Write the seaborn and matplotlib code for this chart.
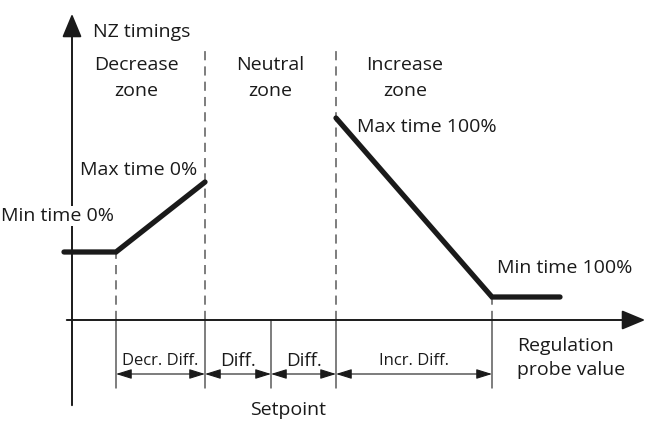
import matplotlib
matplotlib.use("Agg")
import matplotlib.pyplot as plt
import seaborn as sns
import pandas as pd

# Schematic values (x = regulation probe value, y = NZ timing), origin at the axes crossing
breaks_x = [44, 133, 199, 264, 420]          # Decr. start, Decr./Neutral, Setpoint, Neutral/Incr., Incr. end
decrease_x = [-8, 44, 133]
decrease_y = [68, 68, 138]
increase_x = [264, 420, 488]
increase_y = [202, 23, 23]
span_labels = ["Decr. Diff.", "Diff.", "Diff.", "Incr. Diff."]
span_sizes = [12, 13.5, 13.5, 12]
zone_labels = ["Decrease\nzone", "Neutral\nzone", "Increase\nzone"]
zone_x = [64, 198, 333]

sns.set_theme(style="white")
plt.rcParams['font.family'] = ['Open Sans', 'DejaVu Sans']

fig = plt.figure(figsize=(6.48, 4.21), dpi=100)
ax = fig.add_axes([0, 0, 1, 1])
ax.set_xlim(-72, 576)
ax.set_ylim(-101, 320)
ax.axis('off')

ink = '#1a1a1a'
grey = '#5a5a5a'

# axes with arrow heads
ax.annotate('', xy=(576, 0), xytext=(-8, 0),
            arrowprops=dict(arrowstyle='-|>,head_length=1.2,head_width=0.5', color=ink, lw=1.4))
ax.annotate('', xy=(0, 309), xytext=(0, -88),
            arrowprops=dict(arrowstyle='-|>,head_length=1.2,head_width=0.5', color=ink, lw=1.4))

# dashed zone limits
dash_tops = [68, 270, None, 270, 23]
for bx, top in zip(breaks_x, dash_tops):
    if top is None:
        continue
    ax.plot([bx, bx], [0, top], color=grey, lw=1.1, ls=(0, (6, 4)))

# solid ticks below the x axis
for bx in breaks_x:
    ax.plot([bx, bx], [0, -68], color=grey, lw=1.1)

# dimension arrows
for x0, x1, lab, sz in zip(breaks_x[:-1], breaks_x[1:], span_labels, span_sizes):
    ax.annotate('', xy=(x1, -54), xytext=(x0, -54),
                arrowprops=dict(arrowstyle='<|-|>,head_length=0.8,head_width=0.25',
                                color=ink, lw=0.8, shrinkA=0, shrinkB=0))
    ax.text((x0 + x1) / 2, -41, lab, ha='center', va='center', fontsize=sz, color=ink)

# timing curves
curves = pd.concat([
    pd.DataFrame({'x': decrease_x, 'y': decrease_y, 'seg': 'dec'}),
    pd.DataFrame({'x': increase_x, 'y': increase_y, 'seg': 'inc'}),
])
sns.lineplot(data=curves, x='x', y='y', units='seg', estimator=None, sort=False,
             color=ink, lw=3.8, solid_capstyle='round', solid_joinstyle='miter', ax=ax)

# labels
fs = 14
ax.text(21, 288, 'NZ timings', ha='left', va='center', fontsize=fs, color=ink)
for zx, zl in zip(zone_x, zone_labels):
    ax.text(zx, 242, zl, ha='center', va='center', fontsize=fs, color=ink, linespacing=1.5)
ax.text(8, 150, 'Max time 0%', ha='left', va='center', fontsize=fs, color=ink)
ax.text(-71, 104, 'Min time 0%', ha='left', va='center', fontsize=fs, color=ink,
        bbox=dict(facecolor='white', edgecolor='none', pad=0.5))
ax.text(285, 193, 'Max time 100%', ha='left', va='center', fontsize=fs, color=ink)
ax.text(425, 52, 'Min time 100%', ha='left', va='center', fontsize=fs, color=ink)
ax.text(445, -38, 'Regulation\nprobe value', ha='left', va='center', fontsize=fs, color=ink, linespacing=1.45)
ax.text(216, -90, 'Setpoint', ha='center', va='center', fontsize=fs, color=ink)

fig.savefig('out.png', dpi=100)
